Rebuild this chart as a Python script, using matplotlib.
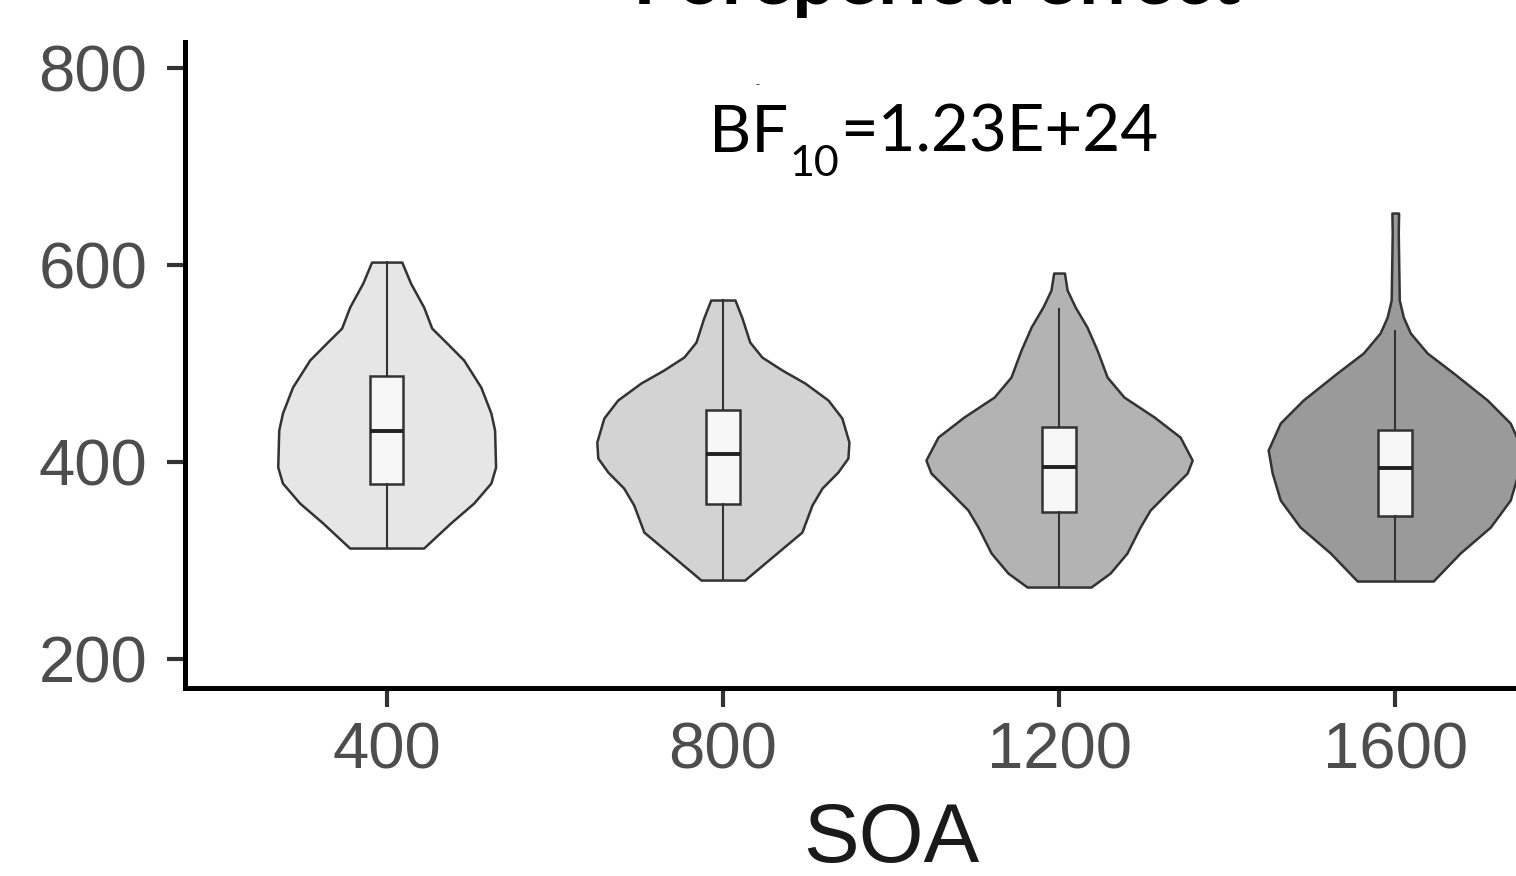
import numpy as np
import matplotlib.pyplot as plt

plt.rcParams['font.family'] = ['Liberation Sans', 'DejaVu Sans']

soa = ['400', '800', '1200', '1600']
fills = ['#e6e6e6', '#d3d3d3', '#b3b3b3', '#9a9a9a']

# violin outlines: RT (ms) and half-width (category units)
v400_rt = [603.0, 581.7, 557.4, 536.0, 520.8, 503.6, 476.1, 449.7, 432.5, 394.9,
           378.7, 358.4, 338.1, 312.7]
v400_w = [0.045, 0.071, 0.110, 0.134, 0.179, 0.229, 0.280, 0.310, 0.321, 0.324,
          0.310, 0.259, 0.190, 0.110]
v800_rt = [564.5, 546.2, 521.8, 506.6, 493.4, 480.2, 462.9, 444.7, 420.3, 404.1,
           389.8, 373.6, 356.3, 328.9, 308.6, 280.2]
v800_w = [0.036, 0.057, 0.080, 0.116, 0.176, 0.244, 0.313, 0.354, 0.375, 0.372,
          0.342, 0.295, 0.265, 0.235, 0.164, 0.065]
v1200_rt = [591.9, 574.6, 557.4, 537.1, 513.7, 486.3, 466.0, 445.7, 425.4, 402.0,
            388.8, 368.5, 351.3, 334.0, 307.6, 287.3, 273.1]
v1200_w = [0.016, 0.024, 0.048, 0.083, 0.113, 0.143, 0.193, 0.283, 0.360, 0.396,
           0.381, 0.321, 0.271, 0.241, 0.202, 0.152, 0.095]
v1600_rt = [652.8, 632.5, 564.5, 547.2, 531.0, 510.7, 490.4, 462.9, 439.6, 412.2,
            388.8, 361.4, 334.0, 307.6, 279.2]
v1600_w = [0.010, 0.009, 0.012, 0.024, 0.045, 0.095, 0.173, 0.274, 0.342, 0.378,
           0.366, 0.342, 0.283, 0.193, 0.113]

# box plot summaries
q1 = [377.7, 357.4, 349.2, 345.2]
med = [431.5, 408.1, 394.9, 393.9]
q3 = [487.3, 452.8, 435.5, 432.5]
whislo = [312.7, 280.2, 273.1, 279.2]
whishi = [603.0, 564.5, 555.3, 533.0]

violins = [(v400_rt, v400_w), (v800_rt, v800_w), (v1200_rt, v1200_w), (v1600_rt, v1600_w)]
pos = np.arange(1, len(soa) + 1)

W, H = 1516, 876
fig = plt.figure(figsize=(W / 100, H / 100), dpi=100)
ax = fig.add_axes([0.122, 0.2146, 0.9314, 0.7374])

for p, (rt, w), c in zip(pos, violins, fills):
    rt = np.array(rt)
    w = np.array(w)
    ax.fill_betweenx(rt, p - w, p + w, facecolor=c, edgecolor='#333333', linewidth=1.8,
                     joinstyle='round', zorder=1)

stats = [dict(med=m, q1=a, q3=b, whislo=lo, whishi=hi, fliers=[])
         for m, a, b, lo, hi in zip(med, q1, q3, whislo, whishi)]
ax.bxp(stats, positions=pos, widths=0.1, patch_artist=True, showfliers=False, showcaps=False,
       boxprops=dict(facecolor='#f7f7f7', edgecolor='#333333', linewidth=1.8),
       whiskerprops=dict(color='#333333', linewidth=1.5),
       medianprops=dict(color='#222222', linewidth=2.8), zorder=2)

ax.set_xlim(0.4, 4.6)
ax.set_ylim(170.6, 826.4)
ax.set_yticks([200, 400, 600, 800])
ax.set_xticks(pos)
ax.set_xticklabels(soa)
for s in ['top', 'right']:
    ax.spines[s].set_visible(False)
for s in ['left', 'bottom']:
    ax.spines[s].set_linewidth(3.6)
    ax.spines[s].set_color('black')
    ax.spines[s].set_capstyle('projecting')
ax.tick_params(axis='y', length=13, width=3.0, color='#333333', labelcolor='#4d4d4d',
               labelsize=47, pad=14)
ax.tick_params(axis='x', length=14, width=3.0, color='#333333', labelcolor='#4d4d4d',
               labelsize=47, pad=10)
ax.set_xlabel('SOA', fontsize=60, color='#1a1a1a', labelpad=14)

# Bayes factor annotation, built from three pieces so the subscript sits low
fig.text(788 / W, 1 - 152 / H, 'BF', family='Lato', fontsize=47, ha='right', va='baseline')
fig.text(789 / W, 1 - 176 / H, '10', family='Lato', fontsize=31, ha='left', va='baseline')
fig.text(840 / W, 1 - 152 / H, '=1.23E+24', family='Lato', fontsize=47, ha='left', va='baseline')
fig.text(757 / W, 1 - 85 / H, '-', fontsize=9, color='#333333', ha='center', va='center')

# title, cropped at the top edge as in the source figure
fig.text(937 / W, 1 - 4 / H, 'Foreperiod effect', family='Lato', fontweight='bold',
         fontsize=56, ha='center', va='baseline', color='black')

fig.savefig('out.png', dpi=100)
